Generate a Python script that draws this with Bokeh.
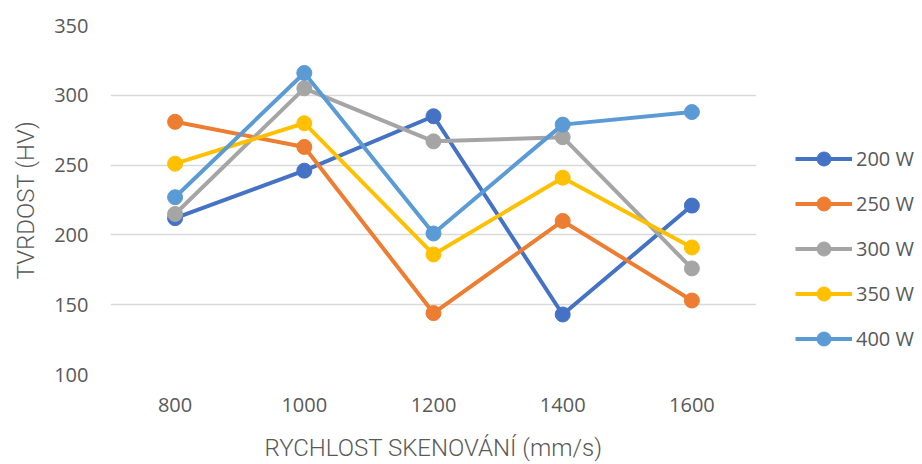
from bokeh.plotting import figure
from bokeh.layouts import row
from bokeh.models import FactorRange, Range1d, FixedTicker, Legend, LegendItem
from bokeh.embed import file_html
from bokeh.resources import INLINE

speeds = ["800", "1000", "1200", "1400", "1600"]
series_names = ["200 W", "250 W", "300 W", "350 W", "400 W"]
hv_200 = [212, 246, 285, 143, 221]
hv_250 = [281, 263, 144, 210, 153]
hv_300 = [215, 305, 267, 270, 176]
hv_350 = [251, 280, 186, 241, 191]
hv_400 = [227, 316, 201, 279, 288]
colors = ["#4472C4", "#ED7D31", "#A5A5A5", "#FFC000", "#5B9BD5"]
y_ticks = [100, 150, 200, 250, 300, 350]

W, H = 922, 464
W1 = 772
p = figure(width=W1, height=H, x_range=FactorRange(*speeds),
           y_range=Range1d(100, 350), output_backend="svg",
           toolbar_location=None, min_border_left=110, min_border_right=W1 - 756,
           min_border_top=25, min_border_bottom=H - 375)
p.outline_line_color = None

# legend-only figure: proxy renderers hold the same series but lie outside its view
q = figure(width=W - W1, height=H, x_axis_type=None, y_axis_type=None,
           x_range=FactorRange(*speeds), y_range=Range1d(-2, -1),
           output_backend="svg", toolbar_location=None,
           min_border_left=0, min_border_right=0, min_border_top=0, min_border_bottom=0)
q.outline_line_color = None
q.xgrid.visible = False
q.ygrid.visible = False

items = []
for name, vals, c in zip(series_names, [hv_200, hv_250, hv_300, hv_350, hv_400], colors):
    p.line(speeds, vals, line_color=c, line_width=4)
    p.scatter(speeds, vals, size=15, fill_color=c, line_color=c)
    ql = q.line(speeds, vals, line_color=c, line_width=4)
    qs = q.scatter(speeds, vals, size=15, fill_color=c, line_color=c)
    items.append(LegendItem(label=name, renderers=[ql, qs]))

p.yaxis.ticker = FixedTicker(ticks=y_ticks)
p.ygrid.ticker = FixedTicker(ticks=y_ticks)
p.ygrid.grid_line_color = "#D9D9D9"
p.ygrid.grid_line_width = 1.5
p.xgrid.grid_line_color = None

for ax in (p.xaxis[0], p.yaxis[0]):
    ax.axis_line_color = None
    ax.major_tick_line_color = None
    ax.minor_tick_line_color = None
    ax.major_tick_out = 0
    ax.major_tick_in = 0
    ax.major_label_text_font = "Open Sans"
    ax.major_label_text_font_size = "20px"
    ax.major_label_text_color = "#595959"
    ax.axis_label_text_font = "Roboto Light, Roboto"
    ax.axis_label_text_font_style = "normal"
    ax.axis_label_text_font_size = "24px"
    ax.axis_label_text_color = "#595959"

p.xaxis.axis_label = "RYCHLOST SKENOVÁNÍ (mm/s)"
p.yaxis.axis_label = "TVRDOST (HV)"
p.xaxis.major_label_standoff = 23
p.yaxis.major_label_standoff = 22
p.xaxis.axis_label_standoff = 19
p.yaxis.axis_label_standoff = 11

legend = Legend(items=items, location=(795 - W1, 18), orientation="vertical",
                glyph_width=57, glyph_height=35, label_height=35,
                spacing=10, padding=0, margin=0, border_line_color=None,
                background_fill_alpha=0, label_text_font="Open Sans",
                label_text_font_size="20px", label_text_color="#595959",
                label_standoff=4)
q.add_layout(legend, "center")

layout = row(p, q, spacing=0)
open("out.html", "w").write(file_html(layout, INLINE))
